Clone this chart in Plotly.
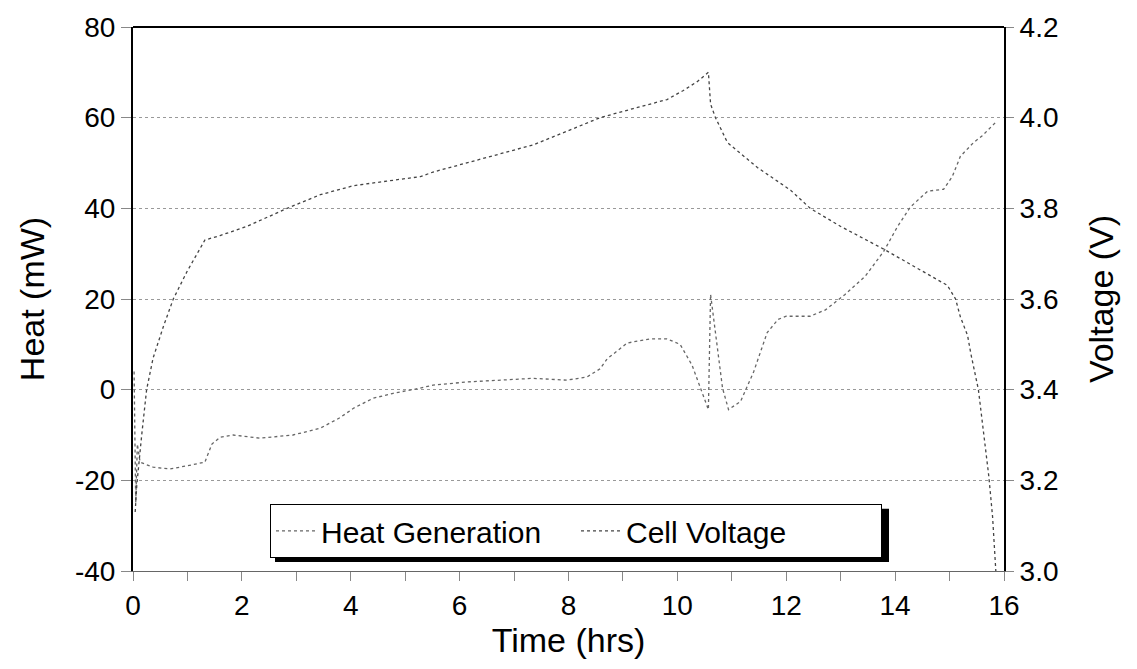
import plotly.graph_objects as go

# Heat generation (mW), left axis
heat_t = [0.02, 0.05, 0.08, 0.13, 0.37, 0.68, 0.99, 1.32, 1.45, 1.6, 1.84, 2.33, 2.94, 3.44, 3.8,
          4.05, 4.41, 4.78, 5.22, 5.51, 6.14, 6.75, 7.35, 7.97, 8.34, 8.58, 8.71, 9.08, 9.5, 9.81,
          10.05, 10.27, 10.42, 10.57, 10.61, 10.7, 10.83, 10.94, 11.16, 11.4, 11.65, 11.85, 12.0,
          12.44, 12.72, 13.08, 13.45, 13.79, 14.04, 14.28, 14.6, 14.89, 15.05, 15.2, 15.44, 15.6, 15.85]
heat_mw = [4, -25, -12, -16, -17.1, -17.5, -16.8, -16, -12, -10.5, -10, -10.7, -10, -8.5, -6.2,
           -4.1, -1.9, -0.8, 0.2, 1.0, 1.7, 2.1, 2.5, 2.1, 2.8, 4.6, 6.8, 10.3, 11.2, 11.2,
           10, 5.4, 0.5, -4.4, 21, 12, 0.3, -4.4, -2.6, 3.9, 12.6, 15.5, 16.2,
           16.2, 17.6, 21, 25, 30.5, 35.9, 40.3, 43.8, 44.2, 47, 51.5, 54.5, 56, 59]

# Cell voltage (V), right axis
volt_t = [0.04, 0.07, 0.16, 0.25, 0.37, 0.56, 0.74, 0.99, 1.32, 1.6, 2.09, 2.83, 3.44, 4.05, 4.66,
          5.28, 5.51, 6.14, 6.75, 7.35, 7.97, 8.58, 9.19, 9.81, 10.11, 10.37, 10.57, 10.61, 10.7,
          10.92, 11.47, 12.08, 12.44, 13.0, 13.79, 14.52, 14.96, 15.11, 15.2, 15.33, 15.39, 15.53,
          15.63, 15.72, 15.79, 15.85]
volt_v = [3.13, 3.19, 3.30, 3.40, 3.47, 3.54, 3.60, 3.66, 3.73, 3.74, 3.76, 3.80, 3.83, 3.85, 3.86,
          3.87, 3.88, 3.90, 3.92, 3.94, 3.97, 4.00, 4.02, 4.04, 4.06, 4.08, 4.10, 4.03, 4.00,
          3.945, 3.89, 3.84, 3.80, 3.76, 3.71, 3.66, 3.63, 3.60, 3.56, 3.52, 3.48, 3.40,
          3.30, 3.21, 3.12, 3.00]

# Tick labels
heat_ticks = [-40, -20, 0, 20, 40, 60, 80]
heat_ticktext = ["-40", "-20", "0", "20", "40", "60", "80"]
volt_ticks = [3.0, 3.2, 3.4, 3.6, 3.8, 4.0, 4.2]
volt_ticktext = ["3.0", "3.2", "3.4", "3.6", "3.8", "4.0", "4.2"]

FONT = "Liberation Sans, Arial, sans-serif"

fig = go.Figure()
fig.add_trace(go.Scatter(x=heat_t, y=heat_mw, name="Heat Generation", mode="lines",
                         line=dict(color="#666666", width=1.3, dash="dot")))
fig.add_trace(go.Scatter(x=volt_t, y=volt_v, name="Cell Voltage", mode="lines", yaxis="y2",
                         line=dict(color="#444444", width=1.3, dash="dot")))

# plot area top edge
fig.add_shape(type="line", xref="x domain", yref="y domain", x0=0, x1=1, y0=1, y1=1,
              line=dict(color="black", width=2))

L, R, T, B = 133, 1004, 20, 571
def px_x(p):
    return (p - L) / (R - L)
def px_y(p):
    return (B - p) / (B - T)

# legend shadow
fig.add_shape(type="rect", xref="paper", yref="paper",
              x0=px_x(275), x1=px_x(889), y0=px_y(562), y1=px_y(508),
              fillcolor="black", line=dict(width=0), layer="above")

fig.update_layout(
    width=1137, height=669,
    margin=dict(l=L, r=1137 - R, t=T, b=669 - B),
    paper_bgcolor="white", plot_bgcolor="white",
    font=dict(family=FONT, color="black"),
    showlegend=True,
    legend=dict(orientation="h", x=px_x(270), y=px_y(503), xanchor="left", yanchor="top",
                bgcolor="white", bordercolor="black", borderwidth=1,
                font=dict(size=30, family=FONT), itemwidth=40,
                entrywidth=250, entrywidthmode="pixels"),
    xaxis=dict(range=[0, 16], dtick=2, tick0=0, showgrid=False, zeroline=False,
               showline=True, linecolor="#666666", linewidth=1,
               ticks="outside", ticklen=9, tickcolor="#888888", tickwidth=1,
               minor=dict(dtick=1, ticks="outside", ticklen=9, tickcolor="#888888"),
               tickfont=dict(size=28, family=FONT),
               title=dict(text="Time (hrs)", font=dict(size=34, family=FONT), standoff=8)),
    yaxis=dict(range=[-40, 80], tickvals=heat_ticks, ticktext=heat_ticktext,
               showgrid=True, gridcolor="#999999",
               griddash="dot", gridwidth=1, zeroline=False,
               showline=True, linecolor="black", linewidth=2,
               ticks="outside", ticklen=10, tickcolor="#888888",
               tickfont=dict(size=28, family=FONT),
               title=dict(text="Heat (mW)", font=dict(size=34, family=FONT), standoff=20)),
    yaxis2=dict(range=[3.0, 4.2], tickvals=volt_ticks, ticktext=volt_ticktext, overlaying="y",
                side="right", showgrid=False, zeroline=False,
                showline=True, linecolor="black", linewidth=2,
                ticks="outside", ticklen=8, tickcolor="#888888",
                tickfont=dict(size=28, family=FONT),
                title=dict(text="Voltage (V)", font=dict(size=34, family=FONT), standoff=32)),
)

fig.write_html("out.html")
